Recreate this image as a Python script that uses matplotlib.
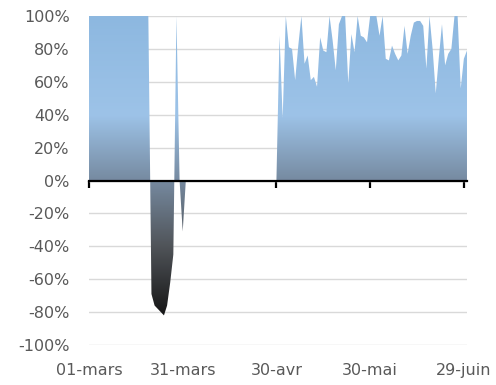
import matplotlib
matplotlib.use("Agg")
import matplotlib.pyplot as plt
import numpy as np
from matplotlib.colors import LinearSegmentedColormap
from matplotlib.patches import PathPatch

plt.rcParams["font.family"] = ["DejaVu Sans"]

# one value per day, 1 March (day 0) to 30 June (day 121), in percent
VALUES = [
    100, 100, 100, 100, 100, 100, 100, 100, 100, 100,
    100, 100, 100, 100, 100, 100, 100, 100, 100, 100,
    -69, -76, -78, -80, -82, -76, -62, -45, 100, 0,
    -31, 0, 0, 0, 0, 0, 0, 0, 0, 0,
    0, 0, 0, 0, 0, 0, 0, 0, 0, 0,
    0, 0, 0, 0, 0, 0, 0, 0, 0, 0,
    0, 88, 38, 100, 81, 80, 61, 82, 100, 71,
    76, 61, 63, 57, 87, 79, 78, 100, 85, 67,
    95, 100, 100, 59, 89, 78, 100, 88, 87, 84,
    100, 100, 100, 88, 100, 74, 73, 82, 77, 73,
    76, 94, 77, 88, 96, 97, 97, 94, 68, 100,
    80, 53, 75, 95, 70, 77, 80, 100, 100, 56,
    74, 79,
]
TICK_DAYS = [0, 30, 60, 90, 120]
TICK_LABELS = ["01-mars", "31-mars", "30-avr", "30-mai", "29-juin"]
Y_TICKS = [100, 80, 60, 40, 20, 0, -20, -40, -60, -80, -100]

# vertical gradient: dark at the bottom, light blue at the top
GRADIENT = LinearSegmentedColormap.from_list("area", [
    (0.00, "#0f0f0f"),
    (0.09, "#161616"),
    (0.30, "#505459"),
    (0.50, "#768aa0"),
    (0.70, "#9dc3e8"),
    (1.00, "#8db8e0"),
])

days = np.arange(len(VALUES))
values = np.array(VALUES, dtype=float)

fig = plt.figure(figsize=(4.96, 3.85), dpi=100)
ax = fig.add_axes([0.1794, 0.1039, 0.7621, 0.8545])

poly = ax.fill_between(days, values, 0, color="none", lw=0)
clip = PathPatch(poly.get_paths()[0], transform=ax.transData,
                 facecolor="none", edgecolor="none")
ax.add_patch(clip)
grad = np.linspace(0, 1, 256).reshape(-1, 1)
im = ax.imshow(grad, extent=[days[0], days[-1], -100, 100], origin="lower",
               aspect="auto", cmap=GRADIENT, zorder=2, interpolation="bilinear")
im.set_clip_path(clip)

ax.set_xlim(0, days[-1])
ax.set_ylim(-100, 100)

for side in ["top", "right", "left"]:
    ax.spines[side].set_visible(False)
ax.spines["bottom"].set_position(("data", 0))
ax.spines["bottom"].set_linewidth(1.6)
ax.spines["bottom"].set_zorder(3)

ax.set_xticks(TICK_DAYS)
ax.tick_params(axis="x", direction="out", length=5, width=1.6,
               labelbottom=False)
ax.set_yticks(Y_TICKS, [f"{v}%" for v in Y_TICKS])
ax.tick_params(axis="y", length=0, pad=14, labelsize=11.5,
               labelcolor="#595959")
ax.grid(axis="y", color="#d9d9d9", lw=1)
ax.set_axisbelow(True)

# date labels sit under the plot, not on the zero line
sec = ax.secondary_xaxis("bottom")
sec.set_xticks(TICK_DAYS, TICK_LABELS)
sec.tick_params(length=0, pad=13, labelsize=11.5, labelcolor="#595959")
sec.spines["bottom"].set_visible(False)

fig.savefig("out.png", dpi=100)
